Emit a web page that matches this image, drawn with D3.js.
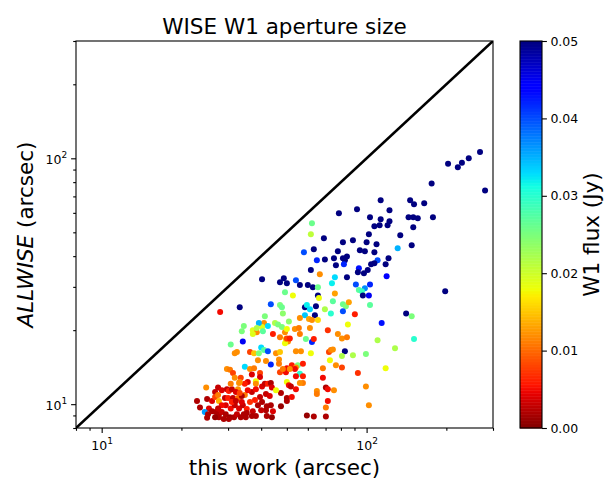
<!DOCTYPE html>
<html>
<head>
<meta charset="utf-8">
<script src="https://cdn.jsdelivr.net/npm/d3@7"></script>
<style>
  body { margin: 0; background: #fff; }
  text { font-family: "DejaVu Sans", sans-serif; }
</style>
</head>
<body>
<svg id="chart" width="607" height="484"></svg>
<script>
// aperture sizes (arcsec) and W1 flux (Jy)
const thisWork = [
  268, 243, 229, 221, 203, 280, 176, 113, 146, 151, 165, 92, 122, 78.6, 103, 113, 122, 144, 150, 156,
  178, 107, 112, 120, 150, 62.2, 61.6, 69, 102, 134, 81.4, 88.8, 100, 109, 148, 63.2, 58, 77.9, 94.3, 98.5,
  107, 131, 64.9, 69.6, 75.3, 81.4, 84.3, 82.8, 110, 121, 76.6, 82.1, 104, 107, 118, 61.6, 66.6, 93.5, 92.7, 97.7,
  101, 119, 75.9, 84.3, 40.3, 47.1, 48.7, 50, 54.1, 56, 60, 62.7, 65.5, 74, 91.1, 98.5, 103, 93.5, 96, 65.5,
  66.1, 75.9, 96.8, 102, 198, 49.2, 52.7, 43.5, 47.1, 47.9, 48.3, 58.5, 59.5, 61.1, 64.4, 69.6, 74.6, 81.4, 83.5, 85.7,
  81.4, 73.3, 63.8, 58.5, 103, 90.3, 141, 148, 41.3, 56, 60.6, 65.5, 114, 85, 41, 45.1, 46.3, 50.9, 40.3, 44.3,
  47.9, 49.2, 50, 53.6, 55.5, 56, 61.1, 71.4, 59, 62.2, 63.2, 77.9, 80.7, 84.3, 110, 128, 151, 50.5, 49.2, 54.1,
  56.5, 61.6, 72.1, 73.3, 82.8, 88.8, 99.4, 80.7, 34.4, 33.8, 37.2, 39.2, 42.4, 28, 33.2, 34.1, 30.7, 31.8, 32.4, 36.3,
  37.6, 39.2, 40, 41, 42.4, 43.5, 41.7, 38.9, 45.5, 47.1, 46.7, 46.7, 50, 49.6, 47.1, 52.2, 55, 57.5, 54.1, 56,
  54.1, 57.5, 57.5, 56, 50, 50.9, 51.8, 54.1, 47.5, 50, 52.2, 50, 47.5, 76.6, 80.7, 92.7, 68.4, 99.4, 102, 70.2,
  71.4, 75.3, 64.9, 64.9, 71.4, 70.2, 59.5, 63.2, 70.2, 72.7, 68.4, 74.6, 118, 24.8, 29.7, 30.5, 34.7, 31.3, 31.8, 33.5,
  33, 36.3, 37.6, 36.9, 39.6, 39.6, 38.2, 38.2, 35.6, 34.7, 32.7, 27.5, 28.4, 29.7, 30.2, 31, 32.1, 26.8, 40.3, 41.3,
  42.4, 43.5, 43.9, 45.5, 41.7, 43.1, 22.9, 23.5, 25, 26.1, 26.8, 27.5, 27.7, 29.2, 30, 31.3, 32.7, 34.7, 33.8, 39.6,
  40.3, 43.5, 38.9, 41.7, 44.3, 43.9, 37.2, 25.4, 26.1, 24.5, 25.2, 25, 27, 27.7, 28.4, 29.4, 30.7, 31.8, 33, 34.1,
  35.3, 35.3, 29.4, 30.5, 31.6, 32.4, 33.5, 34.4, 35, 27.7, 26.8, 28.9, 30.2, 36.9, 38.2, 40, 42, 42, 37.9, 36.3,
  36.9, 35.6, 33.8, 28.4, 27.5, 31, 32.1, 33.2, 38.2, 30.7, 33.2, 49.6, 38.5, 40.6, 38.5, 37.2, 47.1, 50, 51.3, 62.2,
  53.6, 48.3, 51.3
];

const allwise = [
  106, 100, 96, 92, 95, 74, 79, 67.5, 67.5, 65, 65.6, 62, 61.5, 59.8, 57.6, 56.5, 55.5, 57.6, 57.6, 57.1,
  57.6, 52.9, 53.4, 53.4, 52.4, 54.4, 49.1, 47.3, 49.1, 48.6, 45.6, 46.4, 45.6, 44.7, 44.3, 42.7, 41.5, 41.9, 42.3, 41.9,
  41.5, 43.1, 38.5, 38.8, 39.2, 39.2, 39.9, 38.5, 38.5, 39.2, 36.7, 37.1, 37.1, 37.4, 37.1, 35.1, 33.8, 35.7, 34.4, 34.1,
  35.1, 33.1, 32.8, 32.8, 32.2, 31.3, 32.5, 31, 31.9, 30.5, 30.5, 29.9, 29.9, 31, 30.7, 29.6, 30.7, 29.1, 28.8, 27.7,
  27, 28.2, 27.7, 27.7, 28.8, 28.5, 27.7, 25.5, 25.3, 24.8, 23.4, 24.8, 25.3, 24.3, 25, 24.3, 26.2, 25.5, 25, 26,
  23.9, 23.4, 23, 23, 25.3, 23.2, 23.4, 22.8, 22.8, 22.4, 22.2, 22, 21.4, 21.1, 21.4, 21.4, 21.1, 21.7, 20.6, 19.3,
  20.6, 19.6, 20.2, 20.2, 20.4, 19.3, 20.4, 20, 18.4, 17.9, 18.4, 19.3, 18.5, 18.7, 18.2, 16.9, 18.4, 18, 17.7, 16.4,
  16.4, 16.1, 16.3, 16.6, 16.4, 15.8, 16, 15.7, 20.8, 19.8, 20, 21.4, 20.8, 23.7, 24.8, 18, 17.5, 16.1, 16.3, 16.3,
  16.1, 16.1, 17, 16.6, 16.4, 14.5, 15, 15.1, 16.1, 16.3, 15.2, 14.6, 14, 13.5, 13.5, 14.4, 14.4, 14.6, 14.1, 13.3,
  13, 13, 12.2, 12.2, 12.3, 11.95, 11.8, 11.5, 11.1, 10.6, 10.7, 10.3, 9.8, 14.4, 14.1, 13.4, 12.8, 11.8, 9.9, 11.7,
  11.5, 11.4, 11.3, 11, 10.3, 9.7, 9, 8.9, 8.9, 15.1, 14, 16.7, 14, 11.7, 13.9, 13.8, 14.2, 13.4, 12.8, 12.8,
  12.2, 13.9, 14, 13.2, 13.4, 12.9, 12.4, 12.1, 12.3, 12.1, 11.5, 11.7, 11.4, 11.5, 11.3, 11.5, 11.2, 11.2, 11.8, 12.1,
  12.1, 12.2, 11.7, 11.4, 11, 10.8, 10.3, 9.7, 10.5, 10.3, 10.7, 10.9, 10.3, 10.6, 10.6, 10.6, 10.6, 10.9, 10.8, 10.7,
  10.2, 9.9, 9.9, 9.45, 9.35, 8.85, 9.35, 9.6, 9.35, 9.3, 9.1, 8.8, 9.3, 9.1, 9.3, 9.9, 9.6, 9.9, 9.6, 9.9,
  9.55, 9.2, 9.1, 8.85, 8.85, 9.1, 8.85, 9.1, 8.85, 8.85, 8.85, 8.7, 8.7, 8.95, 8.95, 9.45, 8.95, 9.8, 10.4, 10.2,
  11.2, 11.4, 10.2, 9.9, 9.6, 10.2, 10.3, 11.1, 11.5, 12.1, 12.3, 18.4, 19.6, 19.8, 20.4, 19.3, 18.7, 18.5, 18.5, 22,
  13.9, 13.9, 13.9
];

const w1Flux = [
  .05, .05, .05, .05, .05, .05, .05, .05, .05, .05, .05, .05, .05, .05, .05, .05, .05, .05, .05, .05,
  .05, .05, .05, .05, .05, .026, .021, .05, .05, .05, .05, .05, .05, .05, .05, .05, .040, .05, .05, .05,
  .05, .035, .042, .05, .05, .05, .05, .05, .040, .05, .05, .042, .05, .05, .05, .05, .012, .043, .05, .05,
  .05, .044, .033, .05, .05, .05, .05, .05, .040, .05, .05, .05, .026, .032, .040, .037, .042, .027, .029, .05,
  .018, .013, .05, .045, .05, .026, .018, .040, .025, .026, .024, .05, .032, .033, .05, .022, .027, .026, .025, .013,
  .040, .030, .05, .034, .027, .006, .05, .025, .025, .012, .013, .016, .043, .018, .012, .022, .025, .024, .019, .006,
  .025, .012, .018, .012, .011, .011, .012, .007, .026, .042, .006, .012, .012, .011, .022, .022, .030, .012, .018, .012,
  .012, .018, .008, .011, .05, .022, .025, .022, .025, .025, .019, .035, .033, .005, .05, .045, .026, .012, .012, .008,
  .015, .025, .033, .027, .040, .042, .012, .012, .012, .015, .012, .011, .005, .005, .008, .006, .025, .006, .012, .030,
  .005, .006, .011, .012, .018, .005, .003, .005, .002, .002, .005, .002, .001, .012, .008, .007, .005, .012, .012, .002,
  .005, .012, .012, .011, .005, .011, .001, .002, .002, .018, .011, .012, .018, .012, .012, .011, .033, .008, .012, .008,
  .012, .012, .011, .004, .008, .004, .018, .012, .004, .006, .012, .003, .004, .003, .006, .003, .004, .003, .004, .003,
  .006, .002, .004, .018, .003, .004, .002, .002, .002, .004, .008, .011, .014, .003, .006, .003, .010, .011, .002, .003,
  .002, .002, .002, .002, .004, .001, .003, .004, .002, .036, .002, .002, .002, .002, .003, .004, .005, .003, .004, .003,
  .006, .002, .002, .001, .002, .003, .002, .002, .002, .002, .001, .002, .002, .002, .002, .003, .002, .002, .006, .007,
  .003, .005, .004, .005, .003, .006, .003, .008, .005, .011, .012, .015, .012, .027, .022, .019, .011, .008, .006, .012,
  .005, .011, .012
];

const axisLimits = [8, 300];
const majorTicks = [10, 100];
const minorTicks = [8, 9, 20, 30, 40, 50, 60, 70, 80, 90, 200, 300];
const fluxTicks = [0, 0.01, 0.02, 0.03, 0.04, 0.05];

const svg = d3.select("#chart");
const plot = {left: 76, right: 493, top: 41, bottom: 428};
const bar = {left: 520, right: 542};

const x = d3.scaleLog().domain(axisLimits).range([plot.left, plot.right]);
const y = d3.scaleLog().domain(axisLimits).range([plot.bottom, plot.top]);

// jet colormap, reversed, like matplotlib's jet_r
function lin(pts, t) {
  for (let i = 1; i < pts.length; i++) {
    if (t <= pts[i][0]) {
      const a = pts[i-1], b = pts[i];
      return a[1] + (b[1] - a[1]) * (t - a[0]) / (b[0] - a[0]);
    }
  }
  return pts[pts.length-1][1];
}
function jet(t) {
  const r = lin([[0,0],[0.35,0],[0.66,1],[0.89,1],[1,0.5]], t);
  const g = lin([[0,0],[0.125,0],[0.375,1],[0.64,1],[0.91,0],[1,0]], t);
  const b = lin([[0,0.5],[0.11,1],[0.34,1],[0.65,0],[1,0]], t);
  return d3.rgb(r*255, g*255, b*255).toString();
}
const color = d3.scaleSequential(t => jet(1 - t)).domain([0, 0.05]).clamp(true);

// clip for plot area
svg.append("clipPath").attr("id", "clip")
   .append("rect")
   .attr("x", plot.left).attr("y", plot.top)
   .attr("width", plot.right - plot.left).attr("height", plot.bottom - plot.top);

// POINTS
svg.append("g")
   .attr("clip-path", "url(#clip)")
   .selectAll("circle")
   .data(thisWork)
   .enter()
   .append("circle")
   .attr("cx", d => x(d))
   .attr("cy", (d, i) => y(allwise[i]))
   .attr("r", 3)
   .attr("fill", (d, i) => color(w1Flux[i]));

// one-to-one line
svg.append("line")
   .attr("clip-path", "url(#clip)")
   .attr("x1", x(axisLimits[0])).attr("y1", y(axisLimits[0]))
   .attr("x2", x(axisLimits[1])).attr("y2", y(axisLimits[1]))
   .attr("stroke", "black")
   .attr("stroke-width", 2.6);

// frame
svg.append("rect")
   .attr("x", plot.left).attr("y", plot.top)
   .attr("width", plot.right - plot.left).attr("height", plot.bottom - plot.top)
   .attr("fill", "none").attr("stroke", "black").attr("stroke-width", 1.1);

// AXES
const powerLabel = function(sel, v) {
  sel.text("10");
  sel.append("tspan").attr("dy", -6).attr("font-size", "9px").text(Math.round(Math.log10(v)));
};

const xMajor = svg.append("g")
   .attr("transform", "translate(0," + plot.bottom + ")")
   .call(d3.axisBottom(x).tickValues(majorTicks).tickSize(4.9).tickPadding(5).tickFormat(""));
xMajor.selectAll(".tick text")
   .attr("font-size", "12.5px").attr("fill", "#000").attr("dy", "1em")
   .each(function(d) { powerLabel(d3.select(this), d); });
svg.append("g")
   .attr("transform", "translate(0," + plot.bottom + ")")
   .call(d3.axisBottom(x).tickValues(minorTicks).tickSize(2.8).tickFormat(""));

const yMajor = svg.append("g")
   .attr("transform", "translate(" + plot.left + ",0)")
   .call(d3.axisLeft(y).tickValues(majorTicks).tickSize(4.9).tickPadding(4).tickFormat(""));
yMajor.selectAll(".tick text")
   .attr("font-size", "12.5px").attr("fill", "#000").attr("dy", "0.4em")
   .each(function(d) { powerLabel(d3.select(this), d); });
svg.append("g")
   .attr("transform", "translate(" + plot.left + ",0)")
   .call(d3.axisLeft(y).tickValues(minorTicks).tickSize(2.8).tickFormat(""));

svg.selectAll(".domain").remove();
svg.selectAll(".tick line").attr("stroke", "black").attr("stroke-width", 1.1);

// titles
svg.append("text")
   .attr("x", (plot.left + plot.right) / 2).attr("y", 34)
   .attr("text-anchor", "middle").attr("font-size", "21.5px")
   .text("WISE W1 aperture size");

svg.append("text")
   .attr("x", (plot.left + plot.right) / 2).attr("y", 475)
   .attr("text-anchor", "middle").attr("font-size", "21.5px")
   .text("this work (arcsec)");

const yl = svg.append("text")
   .attr("transform", "translate(33," + (plot.top + plot.bottom) / 2 + ") rotate(-90)")
   .attr("text-anchor", "middle").attr("font-size", "21.5px");
yl.append("tspan").attr("font-style", "italic").text("ALLWISE");
yl.append("tspan").text(" (arcsec)");

// COLORBAR
const c = d3.scaleLinear().domain([0, 0.05]).range([plot.bottom, plot.top]);
const steps = d3.range(0, 256);
svg.append("g")
   .selectAll("rect")
   .data(steps)
   .enter()
   .append("rect")
   .attr("x", bar.left)
   .attr("width", bar.right - bar.left)
   .attr("y", d => c((d + 1) / 256 * 0.05))
   .attr("height", d => c(d / 256 * 0.05) - c((d + 1) / 256 * 0.05) + 0.5)
   .attr("fill", d => color((d + 0.5) / 256 * 0.05));

svg.append("rect")
   .attr("x", bar.left).attr("y", plot.top)
   .attr("width", bar.right - bar.left).attr("height", plot.bottom - plot.top)
   .attr("fill", "none").attr("stroke", "black").attr("stroke-width", 1.1);

const cAxis = svg.append("g")
   .attr("transform", "translate(" + bar.right + ",0)")
   .call(d3.axisRight(c).tickValues(fluxTicks).tickSize(4.9).tickPadding(3.5).tickFormat(d3.format(".2f")));
cAxis.select(".domain").remove();
cAxis.selectAll(".tick line").attr("stroke", "black").attr("stroke-width", 1.1);
cAxis.selectAll(".tick text").attr("font-size", "12.5px").attr("fill", "#000")
     .attr("font-family", "DejaVu Sans");

svg.append("text")
   .attr("transform", "translate(599," + (plot.top + plot.bottom) / 2 + ") rotate(-90)")
   .attr("text-anchor", "middle").attr("font-size", "21.5px")
   .text("W1 flux (Jy)");
</script>
</body>
</html>
